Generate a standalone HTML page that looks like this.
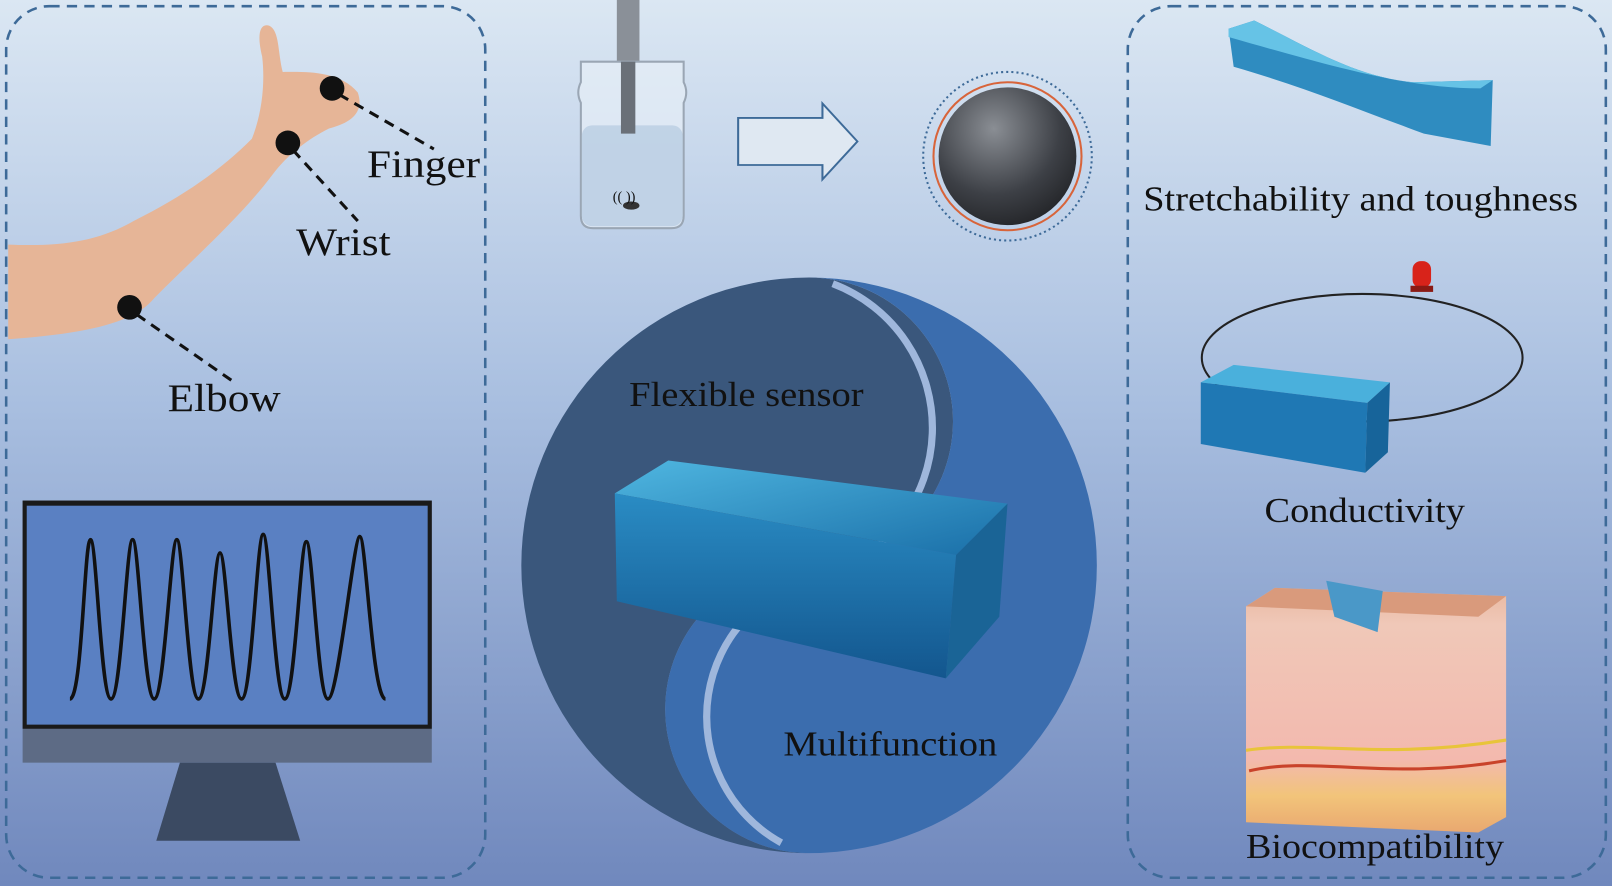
<!DOCTYPE html>
<html><head><meta charset="utf-8"><style>
html,body{margin:0;padding:0;width:1612px;height:886px;overflow:hidden}
svg{display:block}
text{font-family:"Liberation Serif",serif;fill:#111}
</style></head><body>
<svg width="1612" height="886" viewBox="0 0 1568 862" preserveAspectRatio="none">
<defs>
<linearGradient id="bg" x1="0" y1="0" x2="0" y2="1">
<stop offset="0" stop-color="#dbe7f3"/><stop offset="0.45" stop-color="#a9bfe0"/><stop offset="1" stop-color="#7088bd"/></linearGradient>
<radialGradient id="sph" cx="0.4" cy="0.3" r="0.8"><stop offset="0" stop-color="#8a8e94"/><stop offset="0.6" stop-color="#3d4046"/><stop offset="1" stop-color="#1e1f22"/></radialGradient>
<linearGradient id="gel" x1="0" y1="0" x2="1" y2="1"><stop offset="0" stop-color="#4fb6e0"/><stop offset="1" stop-color="#1a6fa8"/></linearGradient>
<linearGradient id="gelf" x1="0" y1="0" x2="0" y2="1"><stop offset="0" stop-color="#2a8cc4"/><stop offset="1" stop-color="#13568e"/></linearGradient>
<linearGradient id="skin" x1="0" y1="0" x2="0" y2="1"><stop offset="0" stop-color="#e8b8a0"/><stop offset="0.15" stop-color="#f0c8b8"/><stop offset="0.7" stop-color="#f3b9ae"/><stop offset="0.85" stop-color="#f2c47a"/><stop offset="1" stop-color="#e9a870"/></linearGradient>
</defs>
<rect width="1568" height="862" fill="url(#bg)"/>
<rect x="6" y="6" width="466" height="848" rx="42" fill="none" stroke="#3d6a98" stroke-width="2.5" stroke-dasharray="10 7"/>
<rect x="1097" y="6" width="465" height="848" rx="42" fill="none" stroke="#3d6a98" stroke-width="2.5" stroke-dasharray="10 7"/>
<!-- arm -->
<path d="M8 238 C60 240 95 235 130 215 C180 190 215 165 245 135 C255 110 258 80 255 55 C250 35 252 22 262 25 C272 30 270 50 275 70 C295 70 330 68 348 90 C355 110 340 120 320 125 C300 135 280 150 265 170 C235 210 190 250 150 290 C130 315 80 325 8 330 Z" fill="#e6b597"/>
<circle cx="323" cy="86" r="12" fill="#111"/><circle cx="280" cy="139" r="12" fill="#111"/><circle cx="126" cy="299" r="12" fill="#111"/>
<g stroke="#111" stroke-width="3" stroke-dasharray="10 7"><line x1="330" y1="92" x2="422" y2="145"/><line x1="285" y1="146" x2="348" y2="215"/><line x1="133" y1="306" x2="228" y2="372"/></g>
<g font-size="38" lengthAdjust="spacingAndGlyphs">
<text x="357" y="172" textLength="110" lengthAdjust="spacingAndGlyphs">Finger</text>
<text x="288" y="248" textLength="92" lengthAdjust="spacingAndGlyphs">Wrist</text>
<text x="163" y="400" textLength="110" lengthAdjust="spacingAndGlyphs">Elbow</text>
</g>
<!-- monitor -->
<path d="M175 742 L268 742 L292 818 L152 818 Z" fill="#3b4a62"/>
<rect x="22" y="487" width="398" height="255" fill="#5d6b85"/>
<rect x="22" y="487" width="398" height="222" fill="#1a1a1a"/>
<rect x="26" y="492" width="390" height="213" fill="#5a80c2"/>
<path d="M68 680 C80 680 82 525 88 525 C94 525 98 680 108 680 C118 680 123 525 129 525 C135 525 140 680 150 680 C160 680 166 525 172 525 C178 525 183 680 193 680 C203 680 208 538 214 538 C220 538 225 680 235 680 C245 680 250 520 256 520 C262 520 267 680 277 680 C287 680 292 527 298 527 C304 527 309 680 319 680 C329 680 344 522 350 522 C356 522 362 680 375 680" fill="none" stroke="#111" stroke-width="3.5"/>
<!-- vial -->
<rect x="600" y="0" width="22" height="60" fill="#8a9098"/>
<path d="M565 60 h100 v20 q5 10 0 20 v110 q0 12 -12 12 h-76 q-12 0 -12 -12 v-110 q-5 -10 0 -20 Z" fill="#e6eef6" fill-opacity="0.7" stroke="#9aa6b4" stroke-width="2"/>
<rect x="566" y="122" width="98" height="98" rx="10" fill="#b9cde2" fill-opacity="0.8"/>
<rect x="604" y="60" width="14" height="70" fill="#6a7078"/>
<ellipse cx="614" cy="200" rx="8" ry="4" fill="#333"/>
<text x="596" y="196" font-size="14">((  ))</text>
<!-- arrow -->
<path d="M718 112 H800 V96 L834 138 L800 180 V164 H718 Z" fill="#dfe8f2" stroke="#3d6a98" stroke-width="2" transform="translate(0,3) scale(1,0.88) translate(0,15)"/>
<!-- sphere -->
<circle cx="980" cy="152" r="82" fill="none" stroke="#3d6a98" stroke-width="2" stroke-dasharray="2 3"/>
<circle cx="980" cy="152" r="72" fill="none" stroke="#d8643a" stroke-width="2"/>
<circle cx="980" cy="152" r="67" fill="url(#sph)"/>
<!-- yin yang -->
<path d="M787 270 A280 280 0 0 0 787 830 A140 140 0 0 1 787 550 A140 140 0 0 0 787 270 Z" fill="#3a577c"/>
<path d="M787 270 A280 280 0 0 1 787 830 A140 140 0 0 1 787 550 A140 140 0 0 0 787 270 Z" fill="#3b6dae"/>
<path d="M810 276 A150 150 0 0 1 800 560 A140 140 0 0 0 760 820" fill="none" stroke="#9fb7dc" stroke-width="7"/>
<text x="612" y="395" font-size="34" textLength="228" lengthAdjust="spacingAndGlyphs">Flexible sensor</text>
<text x="762" y="735" font-size="34" textLength="208" lengthAdjust="spacingAndGlyphs">Multifunction</text>
<!-- gel block -->
<path d="M598 480 L650 448 L980 490 L930 540 Z" fill="url(#gel)"/>
<path d="M598 480 L930 540 L920 660 L600 585 Z" fill="url(#gelf)"/>
<path d="M930 540 L980 490 L972 600 L920 660 Z" fill="#1a6496"/>
<!-- right panel -->
<path d="M1195 28 L1220 20 C1280 50 1320 75 1375 80 L1452 78 L1450 142 L1385 130 C1330 110 1270 85 1200 65 Z" fill="#2f8cc0"/>
<path d="M1195 28 L1220 20 C1280 50 1320 75 1375 80 L1452 78 L1440 86 C1370 86 1300 66 1195 36Z" fill="#66c3e6"/>
<text x="1112" y="205" font-size="34" textLength="423" lengthAdjust="spacingAndGlyphs">Stretchability and toughness</text>
<ellipse cx="1325" cy="348" rx="156" ry="62" fill="none" stroke="#222" stroke-width="2"/>
<rect x="1374" y="254" width="18" height="26" rx="8" fill="#d8231a"/><rect x="1372" y="278" width="22" height="6" fill="#8a1a14"/>
<path d="M1168 372 L1200 355 L1352 372 L1330 392 Z" fill="#4ab0dc"/>
<path d="M1168 372 L1330 392 L1328 460 L1168 432 Z" fill="#1f78b4"/>
<path d="M1330 392 L1352 372 L1350 440 L1328 460 Z" fill="#17649a"/>
<text x="1230" y="508" font-size="34" textLength="195" lengthAdjust="spacingAndGlyphs">Conductivity</text>
<path d="M1212 590 L1240 572 L1465 580 L1465 795 L1438 810 L1212 800 Z" fill="url(#skin)"/>
<path d="M1212 590 L1240 572 L1465 580 L1438 600 Z" fill="#d99a7c"/>
<path d="M1290 565 L1345 575 L1340 615 L1298 600 Z" fill="#4a98c8"/>
<path d="M1212 730 C1280 720 1340 740 1465 720" fill="none" stroke="#e8c43a" stroke-width="3"/>
<path d="M1215 750 C1280 735 1350 760 1465 740" fill="none" stroke="#c9432a" stroke-width="3"/>
<text x="1212" y="835" font-size="34" textLength="251" lengthAdjust="spacingAndGlyphs">Biocompatibility</text>
</svg>
</body></html>
